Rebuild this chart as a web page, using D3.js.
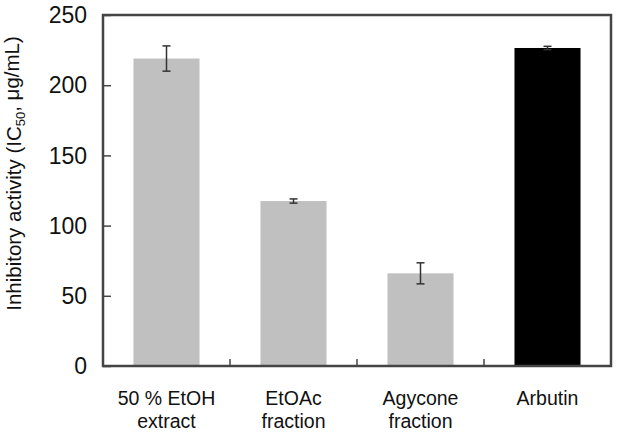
<!DOCTYPE html>
<html lang="en">
<head>
    <meta charset="UTF-8">
    <title>Inhibitory activity</title>
    <script src="https://d3js.org/d3.v7.min.js"></script>
    <style>
        body {
            margin: 0;
            background-color: #ffffff;
            font-family: 'Liberation Sans', Arial, sans-serif;
        }
        .tick-label {
            font-size: 23px;
            fill: #111;
        }
        .cat-label {
            font-size: 19.5px;
            fill: #111;
        }
        .axis-label {
            font-size: 20.5px;
            fill: #111;
        }
    </style>
</head>
<body>
    <svg id="chart"></svg>

    <script>
        const categories = [["50 % EtOH", "extract"], ["EtOAc", "fraction"], ["Agycone", "fraction"], ["Arbutin"]];
        const values = [219, 117.5, 66, 226.5];
        const errors = [9, 1.5, 7.5, 1.2];
        const barColors = ["#c0c0c0", "#c0c0c0", "#c0c0c0", "#000000"];
        const yTicks = [0, 50, 100, 150, 200, 250];

        const margin = {top: 15, right: 8, bottom: 68, left: 103};
        const width = 619 - margin.left - margin.right;
        const height = 434 - margin.top - margin.bottom;

        const svg = d3.select("#chart")
            .attr("width", 619)
            .attr("height", 434)
            .append("g")
            .attr("transform", `translate(${margin.left},${margin.top})`);

        const x = d3.scaleBand()
            .domain(d3.range(categories.length))
            .range([0, width])
            .paddingInner(0.48)
            .paddingOuter(0.24);

        const y = d3.scaleLinear()
            .domain([0, 250])
            .range([height, 0]);

        // bars
        svg.selectAll(".bar")
            .data(values)
            .enter().append("rect")
            .attr("class", "bar")
            .attr("x", (d, i) => x(i))
            .attr("y", d => y(d))
            .attr("width", x.bandwidth())
            .attr("height", d => height - y(d))
            .attr("fill", (d, i) => barColors[i]);

        // error bars
        const err = svg.selectAll(".err")
            .data(values)
            .enter().append("g")
            .attr("class", "err")
            .attr("stroke", "#333")
            .attr("stroke-width", 1.5);
        err.append("line")
            .attr("x1", (d, i) => x(i) + x.bandwidth() / 2)
            .attr("x2", (d, i) => x(i) + x.bandwidth() / 2)
            .attr("y1", (d, i) => y(d + errors[i]))
            .attr("y2", (d, i) => y(d - errors[i]));
        err.append("line")
            .attr("x1", (d, i) => x(i) + x.bandwidth() / 2 - 4)
            .attr("x2", (d, i) => x(i) + x.bandwidth() / 2 + 4)
            .attr("y1", (d, i) => y(d + errors[i]))
            .attr("y2", (d, i) => y(d + errors[i]));
        err.append("line")
            .attr("x1", (d, i) => x(i) + x.bandwidth() / 2 - 4)
            .attr("x2", (d, i) => x(i) + x.bandwidth() / 2 + 4)
            .attr("y1", (d, i) => y(d - errors[i]))
            .attr("y2", (d, i) => y(d - errors[i]));

        // y axis (ticks pointing inward)
        const yAxis = svg.append("g")
            .call(d3.axisRight(y).tickValues(yTicks).tickSize(8).tickFormat(""));
        yAxis.select(".domain").remove();
        yAxis.selectAll("line").attr("stroke", "#444").attr("stroke-width", 1.5);

        svg.selectAll(".tick-label")
            .data(yTicks)
            .enter().append("text")
            .attr("class", "tick-label")
            .attr("x", -16)
            .attr("y", d => y(d))
            .attr("dy", "0.36em")
            .attr("text-anchor", "end")
            .text(d => d);

        // x category separators (inward ticks)
        const sep = d3.range(1, categories.length).map(i => x(i) - x.step() * x.paddingInner() / 2);
        svg.selectAll(".sep")
            .data(sep)
            .enter().append("line")
            .attr("x1", d => d)
            .attr("x2", d => d)
            .attr("y1", height)
            .attr("y2", height - 7)
            .attr("stroke", "#444")
            .attr("stroke-width", 1.5);

        // frame
        svg.append("rect")
            .attr("x", 0)
            .attr("y", 0)
            .attr("width", width)
            .attr("height", height)
            .attr("fill", "none")
            .attr("stroke", "#444")
            .attr("stroke-width", 2.5);

        // category labels
        const catText = svg.selectAll(".cat-label")
            .data(categories)
            .enter().append("text")
            .attr("class", "cat-label")
            .attr("text-anchor", "middle")
            .attr("transform", (d, i) => `translate(${x(i) + x.bandwidth() / 2},${height + 39})`);
        catText.selectAll("tspan")
            .data(d => d)
            .enter().append("tspan")
            .attr("x", 0)
            .attr("y", (d, j) => j * 23)
            .text(d => d);

        // y axis label
        const yl = svg.append("text")
            .attr("class", "axis-label")
            .attr("text-anchor", "middle")
            .attr("transform", `translate(${-82},${height / 2 - 17}) rotate(-90)`);
        yl.append("tspan").text("Inhibitory activity (IC");
        yl.append("tspan").attr("font-size", "13px").attr("dy", "0.3em").text("50");
        yl.append("tspan").attr("dy", "-0.3em").text(", \u03bcg/mL)");
    </script>
</body>
</html>
